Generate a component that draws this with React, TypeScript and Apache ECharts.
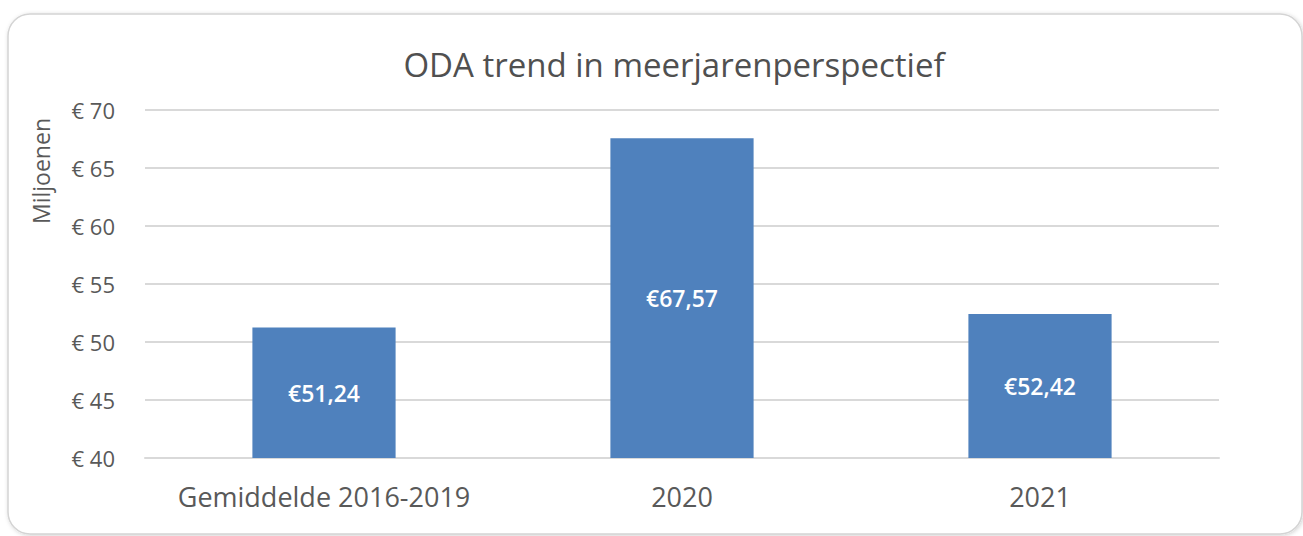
import React, { useEffect, useRef } from "react";
import * as echarts from "echarts";

const categories = ["Gemiddelde 2016-2019", "2020", "2021"];
const values = [51.24, 67.57, 52.42];
const yMin = 40;
const yMax = 70;
const yStep = 5;

const FONT = "'Open Sans', 'Noto Sans', sans-serif";

export default function App() {
  const ref = useRef<HTMLDivElement>(null);
  useEffect(() => {
    if (!ref.current) return;
    const chart = echarts.init(ref.current, undefined, { renderer: "svg" });
    chart.setOption({
      animation: false,
      backgroundColor: "#ffffff",
      title: {
        text: "ODA trend in meerjarenperspectief",
        left: 669,
        top: 43,
        textAlign: "center",
        textStyle: { fontFamily: FONT, fontSize: 33, fontWeight: "normal", color: "#505050" },
      },
      graphic: [
        {
          type: "rect",
          z: -10,
          shape: { x: 8, y: 14, width: 1294, height: 520, r: 22 },
          style: {
            fill: "#ffffff",
            stroke: "#d4d4d4",
            lineWidth: 1.5,
            shadowBlur: 4,
            shadowColor: "rgba(0,0,0,0.18)",
            shadowOffsetX: 1,
            shadowOffsetY: 1,
          },
        },
        {
          type: "text",
          x: 41,
          y: 171,
          rotation: Math.PI / 2,
          style: {
            text: "Miljoenen",
            fontFamily: FONT,
            fontSize: 23,
            fill: "#595959",
            align: "center",
            verticalAlign: "middle",
          },
        },
      ],
      grid: { left: 145, right: 84, top: 110, bottom: 78, containLabel: false },
      xAxis: {
        type: "category",
        data: categories,
        axisLine: { show: true, lineStyle: { color: "#d9d9d9", width: 2 } },
        axisTick: { show: false },
        axisLabel: { fontFamily: FONT, fontSize: 27, color: "#595959", margin: 25, interval: 0 },
      },
      yAxis: {
        type: "value",
        min: yMin,
        max: yMax,
        interval: yStep,
        axisLine: { show: false },
        axisTick: { show: false },
        splitLine: { lineStyle: { color: "#d9d9d9", width: 2 } },
        axisLabel: {
          fontFamily: FONT,
          fontSize: 22,
          color: "#595959",
          margin: 30,
          formatter: (v: number) => "€ " + v,
        },
      },
      series: [
        {
          type: "bar",
          data: values,
          barWidth: "40%",
          itemStyle: { color: "#4f81bd" },
          label: {
            show: true,
            position: "inside",
            fontFamily: FONT,
            fontSize: 23,
            fontWeight: 600,
            color: "#ffffff",
            formatter: (p: any) => "€" + p.value.toFixed(2).replace(".", ","),
          },
        },
      ],
    });
    return () => chart.dispose();
  }, []);
  return (
    <div
      ref={ref}
      style={{ position: "fixed", left: 0, top: 0, width: 1303, height: 536 }}
    />
  );
}
